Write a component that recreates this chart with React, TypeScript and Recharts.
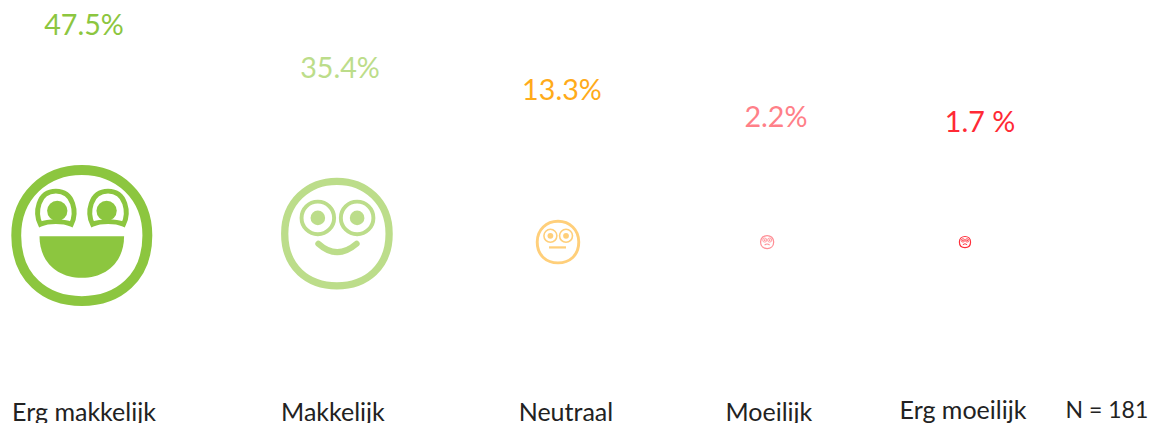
import { ScatterChart, Scatter, XAxis, YAxis, ZAxis } from 'recharts';

const categories = ['Erg makkelijk', 'Makkelijk', 'Neutraal', 'Moeilijk', 'Erg moeilijk'];
const shares = [47.5, 35.4, 13.3, 2.2, 1.7];
const shareLabels = ['47.5%', '35.4%', '13.3%', '2.2%', '1.7 %'];
const sampleNote = 'N = 181';

// the slide has no real axes, so these are read off the picture in chart units
const faceSlots = [0, 1.154, 2.154, 3.1, 3.995];
const faceLevels = [38.5, 39, 36.8, 36.8, 36.8];
const labelSlots = [0.01, 1.168, 2.172, 3.14, 4.063];
const labelLevels = [93.7, 82.5, 76.8, 69.7, 68.4];
const tickSlots = [0.01, 1.136, 2.19, 3.108, 3.986, 4.637];
const tickLabels = [...categories, sampleNote];

const faceColors = ['#8CC63F', '#BCDD8A', '#FFCF7A', '#FF8F96', '#FF2E3A'];
const textColors = ['#8CC63F', '#BCDD8A', '#FFAB1A', '#FF8088', '#FF2A35'];
// the second icon is drawn a little larger than its share alone gives
const artScales = [1, 1.05, 1, 1.05, 1];
const outlineWidths = [7, 6.5, 6.5, 9, 10];

const faces = categories.map((name, i) => ({
  name,
  mood: i,
  slot: faceSlots[i],
  level: faceLevels[i],
  share: shares[i],
}));

const labels = categories.map((name, i) => ({
  name,
  mood: i,
  slot: labelSlots[i],
  level: labelLevels[i],
  text: shareLabels[i],
}));

const OUTLINE =
  'M50 3.5 C76 3.5 96.5 22 96.5 50 C96.5 80 76 96.5 50 96.5 C24 96.5 3.5 80 3.5 50 C3.5 22 24 3.5 50 3.5 Z';

const FaceFeatures = ({ mood, color }: { mood: number; color: string }) => {
  if (mood === 0) {
    return (
      <g>
        {[31.6, 68.6].map((x, i) => (
          <g key={x}>
            <path
              d={`M${x - 11} 42 C${x - 15} 34 ${x - 13} 18.5 ${x} 18.5 C${x + 13} 18.5 ${x + 15} 34 ${x + 11} 42 C${x + 5} 39.5 ${x - 5} 39.5 ${x - 11} 42 Z`}
              fill="none"
              stroke={color}
              strokeWidth={3.5}
            />
            <circle cx={i === 0 ? x + 1 : x - 1} cy={32.5} r={7.2} fill={color} />
          </g>
        ))}
        <path d="M20 50.5 H80 C80 69 67 80 50 80 C33 80 20 69 20 50.5 Z" fill={color} />
      </g>
    );
  }
  const eyes = (
    <g>
      {[33, 68].map((x) => (
        <g key={x}>
          <circle cx={x} cy={36} r={14.5} fill="none" stroke={color} strokeWidth={mood > 2 ? 6 : 3.5} />
          <circle cx={x} cy={36} r={6.5} fill={color} />
        </g>
      ))}
    </g>
  );
  if (mood === 1) {
    return (
      <g>
        {eyes}
        <path d="M33.5 59 Q50 74 67.5 59" fill="none" stroke={color} strokeWidth={5.5} strokeLinecap="round" />
      </g>
    );
  }
  if (mood === 2) {
    return (
      <g>
        {eyes}
        <path d="M30 62 H68" fill="none" stroke={color} strokeWidth={5} />
      </g>
    );
  }
  return (
    <g>
      {eyes}
      <path d="M32 72 Q50 56 68 72" fill="none" stroke={color} strokeWidth={8} />
    </g>
  );
};

const FaceShape = (props: any) => {
  const { cx, cy, size, payload } = props;
  const color = faceColors[payload.mood];
  const art = size * artScales[payload.mood];
  return (
    <g transform={`translate(${cx - art / 2} ${cy - art / 2}) scale(${art / 100})`}>
      <path d={OUTLINE} fill="none" stroke={color} strokeWidth={outlineWidths[payload.mood]} />
      <FaceFeatures mood={payload.mood} color={color} />
    </g>
  );
};

const ShareLabel = (props: any) => {
  const { cx, cy, payload } = props;
  return (
    <text
      x={cx}
      y={cy}
      textAnchor="middle"
      dominantBaseline="central"
      fontFamily="Lato, sans-serif"
      fontSize={28.7}
      fill={textColors[payload.mood]}
    >
      {payload.text}
    </text>
  );
};

const CategoryTick = (props: any) => {
  const { x, y, payload } = props;
  const i = tickSlots.indexOf(payload.value);
  return (
    <text
      x={x}
      y={i >= 4 ? y + 18 : y + 20}
      textAnchor="middle"
      dominantBaseline="central"
      fontFamily="Lato, sans-serif"
      fontSize={i === 5 ? 23 : 25}
      fill="#222222"
    >
      {tickLabels[i]}
    </text>
  );
};

export default function App() {
  return (
    <div style={{ position: 'absolute', left: 0, top: 0, width: 1154, height: 423 }}>
      <ScatterChart width={1154} height={423} margin={{ top: 0, right: 0, bottom: 0, left: 0 }}>
        <XAxis
          type="number"
          dataKey="slot"
          domain={[-0.37, 4.85]}
          ticks={tickSlots}
          interval={0}
          height={40}
          axisLine={false}
          tickLine={false}
          tick={<CategoryTick />}
        />
        <YAxis type="number" dataKey="level" domain={[0, 100]} hide />
        <ZAxis type="number" dataKey="share" domain={[1.7, 47.5]} range={[12, 141]} />
        <Scatter data={faces} shape={<FaceShape />} isAnimationActive={false} />
        <Scatter data={labels} shape={<ShareLabel />} isAnimationActive={false} />
      </ScatterChart>
    </div>
  );
}
